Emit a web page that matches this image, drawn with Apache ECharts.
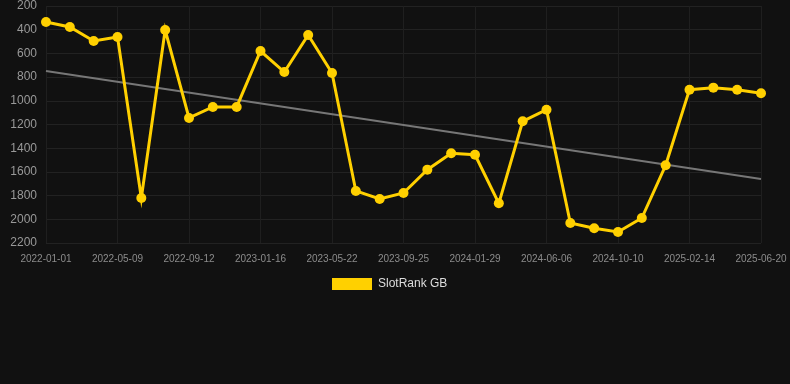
<!DOCTYPE html>
<html>
<head>
<meta charset="utf-8">
<script src="https://cdn.jsdelivr.net/npm/echarts@6/dist/echarts.min.js"></script>
<style>
  html, body { margin: 0; padding: 0; background: #111111; }
  #chart { width: 790px; height: 384px; }
</style>
</head>
<body>
<div id="chart"></div>
<script>
// 日期（类目）
const dates = [
  '2022-01-01', '2022-02-14', '2022-03-28', '2022-05-09', '2022-06-20', '2022-08-01',
  '2022-09-12', '2022-10-24', '2022-12-05', '2023-01-16', '2023-02-27', '2023-04-10',
  '2023-05-22', '2023-07-03', '2023-08-14', '2023-09-25', '2023-11-06', '2023-12-18',
  '2024-01-29', '2024-03-11', '2024-04-22', '2024-06-06', '2024-07-18', '2024-08-29',
  '2024-10-10', '2024-11-21', '2025-01-02', '2025-02-14', '2025-03-28', '2025-05-09',
  '2025-06-20'
]

// 排名数据
const rankValues = [
  335, 377, 495, 462, 1820, 403, 1145, 1052, 1052, 580, 757, 445,
  765, 1761, 1829, 1778, 1581, 1443, 1455, 1865, 1173, 1075, 2031, 2076,
  2107, 1989, 1544, 906, 889, 906, 937
]

// 趋势线端点
const trendStart = 749
const trendEnd = 1660

const trendValues = dates.map((d, i) => (i === 0 ? trendStart : i === dates.length - 1 ? trendEnd : null))

const chart = echarts.init(document.getElementById('chart'))

const option = {
  backgroundColor: '#111111',
  animation: false,
  grid: {
    left: 46,
    right: 29,
    top: 6,
    bottom: 141,
    containLabel: false
  },
  legend: {
    top: 273,
    left: 327,
    itemWidth: 40,
    itemHeight: 12,
    itemGap: 10,
    data: [{ name: 'SlotRank GB', icon: 'rect' }],
    textStyle: { color: '#dddddd', fontSize: 12, padding: [0, 0, 0, 1] }
  },
  xAxis: {
    type: 'category',
    data: dates,
    boundaryGap: false,
    axisLine: { show: false },
    axisTick: { show: false },
    axisLabel: {
      interval: 2,
      color: '#8c8c8c',
      fontSize: 10,
      margin: 11
    },
    splitLine: {
      show: true,
      interval: 2,
      lineStyle: { color: '#1f1f1f', width: 1 }
    }
  },
  yAxis: {
    type: 'value',
    inverse: true,
    min: 200,
    max: 2200,
    interval: 200,
    axisLine: { show: false },
    axisTick: { show: false },
    axisLabel: {
      color: '#999999',
      fontSize: 12,
      margin: 9,
      formatter: (v) => String(v)
    },
    splitLine: {
      lineStyle: { color: '#222222', width: 1 }
    }
  },
  series: [
    {
      name: 'SlotRank GB',
      type: 'line',
      data: rankValues,
      symbol: 'circle',
      symbolSize: 10,
      showAllSymbol: true,
      itemStyle: { color: '#ffd000' },
      lineStyle: { color: '#ffd000', width: 3, join: 'miter' },
      z: 3
    },
    {
      name: 'Trend',
      type: 'line',
      data: trendValues,
      connectNulls: true,
      symbol: 'none',
      lineStyle: { color: '#777777', width: 2 },
      z: 2
    }
  ]
}

chart.setOption(option)
</script>
</body>
</html>
